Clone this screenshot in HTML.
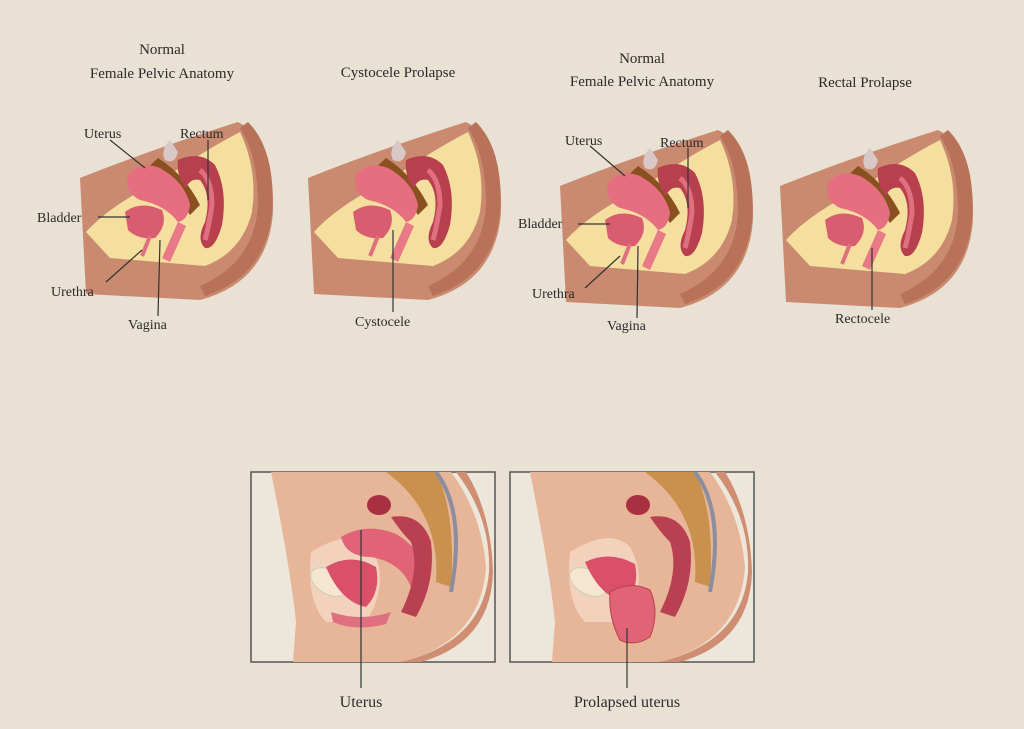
<!DOCTYPE html>
<html><head><meta charset="utf-8"><style>
html,body{margin:0;padding:0;background:#e9e1d4;}
svg{display:block}
text{font-family:"Liberation Serif",serif;fill:#2a2a2a;}
</style></head><body>
<svg width="1024" height="729" viewBox="0 0 1024 729">
<defs>
<g id="top">
  <path d="M80,178 Q150,150 238,122 Q275,140 273,212 Q268,282 200,300 L86,294 Z" fill="#c98a70"/>
  <path d="M248,122 Q276,150 272,212 Q266,276 205,296 L200,286 Q255,262 258,205 Q258,155 240,128 Z" fill="#b87258"/>
  <path d="M86,232 Q110,205 165,178 Q205,150 240,132 Q258,170 252,212 Q242,252 205,266 L110,258 Z" fill="#f5df9f"/>
  <path d="M170,140 Q160,150 165,160 Q175,165 178,152 Z" fill="#d8c8c8"/>
  <path d="M158,158 Q185,175 200,205 L190,215 Q170,185 140,175 Z" fill="#8a5020"/>
  <path d="M178,160 Q200,150 215,165 Q228,190 222,225 Q215,250 205,248 Q196,240 205,222 Q212,195 200,180 Q190,178 186,188 Q176,176 178,160 Z" fill="#b8404e"/>
  <path d="M200,170 Q212,180 212,205 Q208,230 205,240" stroke="#e07080" stroke-width="5" fill="none"/>
  <path d="M128,175 Q140,160 160,168 Q185,182 190,205 Q188,220 178,222 Q165,205 140,200 Q124,192 128,175 Z" fill="#e56f80"/>
  <path d="M125,212 Q140,200 162,210 Q168,225 155,238 Q138,240 128,230 Z" fill="#d95d70"/>
  <path d="M178,222 L162,258 L170,262 L186,226 Z" fill="#e77a86"/>
  <path d="M150,236 L142,256" stroke="#e07080" stroke-width="4"/>
</g>
<g id="bot">
  <path d="M20,0 Q40,100 45,150 L42,190 L150,190 Q230,170 235,95 Q230,40 200,0 Z" fill="#e7b597"/>
  <path d="M205,0 Q240,45 238,100 Q232,170 150,190 L170,190 Q240,170 242,100 Q240,40 215,0 Z" fill="#cf8d72"/>
  <path d="M135,0 Q190,40 185,110 L200,115 Q205,40 185,0 Z" fill="#c9904e"/>
  <path d="M185,0 Q215,40 200,120" stroke="#8a8ea0" stroke-width="4" fill="none"/>
  <path d="M60,80 Q100,55 120,75 Q140,110 115,150 L75,150 Q55,130 60,80 Z" fill="#f2d1bd"/>
  <ellipse cx="78" cy="110" rx="20" ry="12" transform="rotate(30 78 110)" fill="#f6e6cf" stroke="#ccb" />
</g>
</defs>

<text x="162" y="54" font-size="15" text-anchor="middle">Normal</text>
<text x="162" y="78" font-size="15" text-anchor="middle">Female Pelvic Anatomy</text>
<text x="398" y="77" font-size="15" text-anchor="middle">Cystocele Prolapse</text>
<text x="642" y="63" font-size="15" text-anchor="middle">Normal</text>
<text x="642" y="86" font-size="15" text-anchor="middle">Female Pelvic Anatomy</text>
<text x="865" y="87" font-size="15" text-anchor="middle">Rectal Prolapse</text>

<use href="#top"/>
<use href="#top" transform="translate(228,0)"/>
<use href="#top" transform="translate(480,8)"/>
<use href="#top" transform="translate(700,8)"/>

<g stroke="#333" stroke-width="1.2" fill="none">
<path d="M110,140 L145,168"/><path d="M208,140 L208,200"/><path d="M98,217 L130,217"/>
<path d="M106,282 L142,250"/><path d="M158,316 L160,240"/>
<path d="M393,312 L393,230"/>
<path d="M590,146 L625,176"/><path d="M688,148 L688,208"/><path d="M578,224 L610,224"/>
<path d="M585,288 L620,256"/><path d="M637,318 L638,246"/>
<path d="M872,310 L872,248"/>
</g>
<g font-size="14">
<text x="84" y="138">Uterus</text><text x="180" y="138">Rectum</text>
<text x="37" y="222">Bladder</text><text x="51" y="296">Urethra</text><text x="128" y="329">Vagina</text>
<text x="355" y="326">Cystocele</text>
<text x="565" y="145">Uterus</text><text x="660" y="147">Rectum</text>
<text x="518" y="228">Bladder</text><text x="532" y="298">Urethra</text><text x="607" y="330">Vagina</text>
<text x="835" y="323">Rectocele</text>
</g>

<rect x="251" y="472" width="244" height="190" fill="#ede6da" stroke="#555" stroke-width="1.5"/>
<rect x="510" y="472" width="244" height="190" fill="#ede6da" stroke="#555" stroke-width="1.5"/>
<svg x="251" y="472" width="244" height="190"><use href="#bot"/>
  <ellipse cx="128" cy="33" rx="12" ry="10" fill="#a83040"/>
  <path d="M90,65 Q115,50 145,62 Q175,80 175,110 L160,115 Q150,90 120,85 Q95,85 90,65 Z" fill="#e06476"/>
  <path d="M140,45 Q170,40 180,70 Q185,110 165,145 L150,140 Q170,100 160,70 Q150,60 140,45 Z" fill="#b84050"/>
  <path d="M75,95 Q100,80 125,95 Q130,120 115,135 Q90,130 75,95 Z" fill="#d95068"/>
  <path d="M80,140 Q110,150 140,140 L135,152 Q105,160 82,150 Z" fill="#e07080"/>
</svg>
<svg x="510" y="472" width="244" height="190"><use href="#bot"/>
  <ellipse cx="128" cy="33" rx="12" ry="10" fill="#a83040"/>
  <path d="M140,45 Q170,40 180,70 Q185,110 165,145 L150,140 Q170,100 160,70 Q150,60 140,45 Z" fill="#b84050"/>
  <path d="M75,90 Q100,78 125,92 Q130,115 115,130 Q90,125 75,90 Z" fill="#d95068"/>
  <path d="M100,120 Q120,108 140,118 Q150,140 140,165 Q125,175 110,168 Q98,145 100,120 Z" fill="#e06476" stroke="#b84050"/>
</svg>
<path d="M361,530 L361,688" stroke="#333" stroke-width="1.2"/>
<path d="M627,628 L627,688" stroke="#333" stroke-width="1.2"/>
<text x="361" y="707" font-size="16" text-anchor="middle">Uterus</text>
<text x="627" y="707" font-size="16" text-anchor="middle">Prolapsed uterus</text>
</svg>
</body></html>
